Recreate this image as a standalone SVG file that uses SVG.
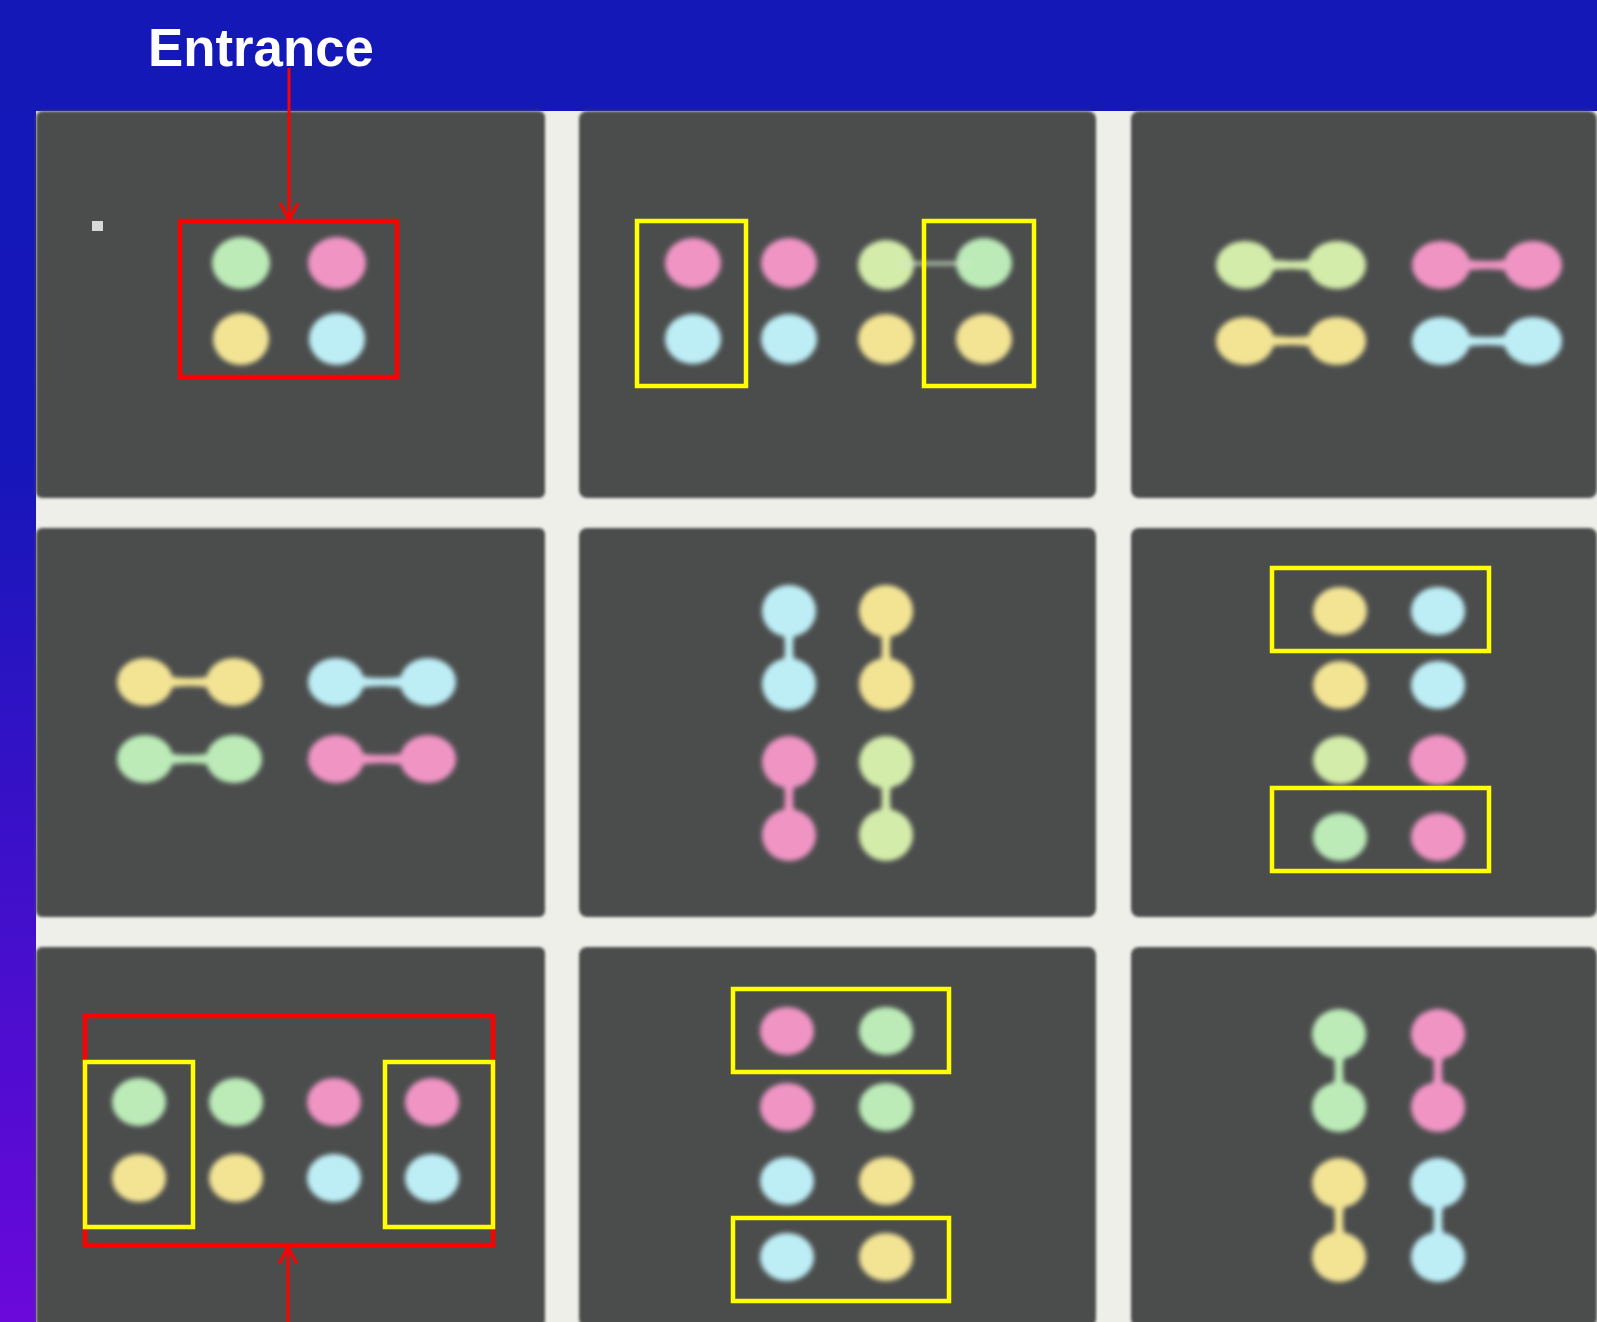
<svg xmlns="http://www.w3.org/2000/svg" width="1597" height="1322" viewBox="0 0 1597 1322">
<defs>
<linearGradient id="bg" x1="0" y1="0" x2="0" y2="1">
<stop offset="0" stop-color="#1418b6"/>
<stop offset="0.35" stop-color="#1617ba"/>
<stop offset="1" stop-color="#6a08da"/>
</linearGradient>
<filter id="soft" x="-20%" y="-20%" width="140%" height="140%"><feGaussianBlur stdDeviation="2.8"/></filter>
<filter id="edge" x="-5%" y="-5%" width="110%" height="110%"><feGaussianBlur stdDeviation="1.5"/></filter>
<marker id="vee" markerWidth="24" markerHeight="24" viewBox="0 0 24 24" refX="20" refY="12" orient="auto" markerUnits="userSpaceOnUse">
<path d="M3,3 L20,12 L3,21" fill="none" stroke="#ff0000" stroke-width="3"/>
</marker>
<style>
.tile{fill:#4b4d4d;filter:url(#edge)}
.g{fill:#bcebb8}
.gy{fill:#d4ecaa}
.p{fill:#f094c4}
.y{fill:#f3e494}
.c{fill:#bdeef6}
.dots{filter:url(#soft)}
.red{fill:none;stroke:#ff0000;stroke-width:4.5}
.yel{fill:none;stroke:#ffff00;stroke-width:4.5}
.lbl{font-family:"Liberation Sans",Arial,sans-serif;font-weight:bold;fill:#ffffff}
</style>
</defs>
<rect x="0" y="0" width="1597" height="1322" fill="url(#bg)"/>
<rect x="0" y="0" width="1597" height="111" fill="#1418b6"/>
<rect x="36" y="111" width="1561" height="1211" fill="#efefea"/>

<g id="tile-r1c1">
<rect class="tile" x="36" y="111" width="509" height="387" rx="6"/>
<rect x="92" y="221" width="11" height="10" fill="#d8d8d8"/>
<g class="dots">
<ellipse class="g" cx="241" cy="263" rx="29" ry="26"/>
<ellipse class="p" cx="337" cy="263" rx="29" ry="26"/>
<ellipse class="y" cx="241" cy="339" rx="28" ry="26"/>
<ellipse class="c" cx="337" cy="339" rx="28" ry="26"/>
</g>
<rect class="red" x="180" y="221" width="217" height="156"/>
</g>

<g id="tile-r1c2">
<rect class="tile" x="579" y="111" width="517" height="387" rx="8"/>
<g class="dots">
<ellipse class="p" cx="693" cy="263" rx="28" ry="25"/>
<ellipse class="p" cx="789" cy="263" rx="28" ry="25"/>
<ellipse class="gy" cx="886" cy="265" rx="28" ry="25"/>
<ellipse class="g" cx="984" cy="263" rx="28" ry="25"/>
<rect x="900" y="262" width="70" height="3" fill="#cfe8c6"/>
<ellipse class="c" cx="693" cy="339" rx="28" ry="25"/>
<ellipse class="c" cx="789" cy="339" rx="28" ry="25"/>
<ellipse class="y" cx="886" cy="339" rx="28" ry="25"/>
<ellipse class="y" cx="984" cy="339" rx="28" ry="25"/>
</g>
<rect class="yel" x="637" y="221" width="109" height="165"/>
<rect class="yel" x="924" y="221" width="110" height="165"/>
</g>

<g id="tile-r1c3">
<rect class="tile" x="1131" y="111" width="466" height="387" rx="8"/>
<g class="dots">
<ellipse class="gy" cx="1245" cy="265" rx="29" ry="24"/><ellipse class="gy" cx="1337" cy="265" rx="29" ry="24"/><path class="gy" d="M1250,255 Q1291,267 1332,255 L1332,275 Q1291,263 1250,275 Z"/>
<ellipse class="p" cx="1441" cy="265" rx="29" ry="24"/><ellipse class="p" cx="1533" cy="265" rx="29" ry="24"/><path class="p" d="M1446,255 Q1487,267 1528,255 L1528,275 Q1487,263 1446,275 Z"/>
<ellipse class="y" cx="1245" cy="341" rx="29" ry="24"/><ellipse class="y" cx="1337" cy="341" rx="29" ry="24"/><path class="y" d="M1250,331 Q1291,343 1332,331 L1332,351 Q1291,339 1250,351 Z"/>
<ellipse class="c" cx="1441" cy="341" rx="29" ry="24"/><ellipse class="c" cx="1533" cy="341" rx="29" ry="24"/><path class="c" d="M1446,331 Q1487,343 1528,331 L1528,351 Q1487,339 1446,351 Z"/>
</g>
</g>

<g id="tile-r2c1">
<rect class="tile" x="36" y="528" width="509" height="389" rx="6"/>
<g class="dots">
<ellipse class="y" cx="145" cy="682" rx="28" ry="24"/><ellipse class="y" cx="234" cy="682" rx="28" ry="24"/><path class="y" d="M150,672 Q190,684 229,672 L229,692 Q190,680 150,692 Z"/>
<ellipse class="c" cx="336" cy="682" rx="28" ry="24"/><ellipse class="c" cx="428" cy="682" rx="28" ry="24"/><path class="c" d="M341,672 Q382,684 423,672 L423,692 Q382,680 341,692 Z"/>
<ellipse class="g" cx="145" cy="759" rx="28" ry="24"/><ellipse class="g" cx="234" cy="759" rx="28" ry="24"/><path class="g" d="M150,749 Q190,761 229,749 L229,769 Q190,757 150,769 Z"/>
<ellipse class="p" cx="336" cy="759" rx="28" ry="24"/><ellipse class="p" cx="428" cy="759" rx="28" ry="24"/><path class="p" d="M341,749 Q382,761 423,749 L423,769 Q382,757 341,769 Z"/>
</g>
</g>

<g id="tile-r2c2">
<rect class="tile" x="579" y="528" width="517" height="389" rx="8"/>
<g class="dots">
<ellipse class="c" cx="789" cy="611" rx="27" ry="26"/><ellipse class="c" cx="789" cy="684" rx="27" ry="26"/><path class="c" d="M779,616 Q791,647 779,679 L799,679 Q787,647 799,616 Z"/>
<ellipse class="y" cx="886" cy="611" rx="27" ry="26"/><ellipse class="y" cx="886" cy="684" rx="27" ry="26"/><path class="y" d="M876,616 Q888,647 876,679 L896,679 Q884,647 896,616 Z"/>
<ellipse class="p" cx="789" cy="762" rx="27" ry="26"/><ellipse class="p" cx="789" cy="835" rx="27" ry="26"/><path class="p" d="M779,767 Q791,798 779,830 L799,830 Q787,798 799,767 Z"/>
<ellipse class="gy" cx="886" cy="762" rx="27" ry="26"/><ellipse class="gy" cx="886" cy="835" rx="27" ry="26"/><path class="gy" d="M876,767 Q888,798 876,830 L896,830 Q884,798 896,767 Z"/>
</g>
</g>

<g id="tile-r2c3">
<rect class="tile" x="1131" y="528" width="466" height="389" rx="8"/>
<g class="dots">
<ellipse class="y" cx="1340" cy="611" rx="27" ry="24"/>
<ellipse class="c" cx="1438" cy="611" rx="27" ry="24"/>
<ellipse class="y" cx="1340" cy="685" rx="27" ry="24"/>
<ellipse class="c" cx="1438" cy="685" rx="27" ry="24"/>
<ellipse class="gy" cx="1340" cy="760" rx="27" ry="24"/>
<ellipse class="p" cx="1438" cy="760" rx="28" ry="25"/>
<ellipse class="g" cx="1340" cy="837" rx="27" ry="24"/>
<ellipse class="p" cx="1438" cy="837" rx="27" ry="24"/>
</g>
<rect class="yel" x="1272" y="568" width="217" height="83"/>
<rect class="yel" x="1272" y="788" width="217" height="83"/>
</g>

<g id="tile-r3c1">
<rect class="tile" x="36" y="947" width="509" height="380" rx="6"/>
<g class="dots">
<ellipse class="g" cx="139" cy="1102" rx="27" ry="24"/>
<ellipse class="g" cx="236" cy="1102" rx="27" ry="24"/>
<ellipse class="p" cx="334" cy="1102" rx="27" ry="24"/>
<ellipse class="p" cx="432" cy="1102" rx="27" ry="24"/>
<ellipse class="y" cx="139" cy="1178" rx="27" ry="24"/>
<ellipse class="y" cx="236" cy="1178" rx="27" ry="24"/>
<ellipse class="c" cx="334" cy="1178" rx="27" ry="24"/>
<ellipse class="c" cx="432" cy="1178" rx="27" ry="24"/>
</g>
<rect class="red" x="85" y="1016" width="408" height="229"/>
<rect class="yel" x="85" y="1062" width="108" height="165"/>
<rect class="yel" x="385" y="1062" width="108" height="165"/>
</g>

<g id="tile-r3c2">
<rect class="tile" x="579" y="947" width="517" height="380" rx="8"/>
<g class="dots">
<ellipse class="p" cx="787" cy="1031" rx="27" ry="24"/>
<ellipse class="g" cx="886" cy="1031" rx="27" ry="24"/>
<ellipse class="p" cx="787" cy="1107" rx="27" ry="24"/>
<ellipse class="g" cx="886" cy="1107" rx="27" ry="24"/>
<ellipse class="c" cx="787" cy="1181" rx="27" ry="24"/>
<ellipse class="y" cx="886" cy="1181" rx="27" ry="24"/>
<ellipse class="c" cx="787" cy="1257" rx="27" ry="24"/>
<ellipse class="y" cx="886" cy="1257" rx="27" ry="24"/>
</g>
<rect class="yel" x="733" y="989" width="216" height="83"/>
<rect class="yel" x="733" y="1218" width="216" height="83"/>
</g>

<g id="tile-r3c3">
<rect class="tile" x="1131" y="947" width="466" height="380" rx="8"/>
<g class="dots">
<ellipse class="g" cx="1339" cy="1034" rx="27" ry="25"/><ellipse class="g" cx="1339" cy="1107" rx="27" ry="25"/><path class="g" d="M1329,1039 Q1341,1070 1329,1102 L1349,1102 Q1337,1070 1349,1039 Z"/>
<ellipse class="p" cx="1438" cy="1034" rx="27" ry="25"/><ellipse class="p" cx="1438" cy="1107" rx="27" ry="25"/><path class="p" d="M1428,1039 Q1440,1070 1428,1102 L1448,1102 Q1436,1070 1448,1039 Z"/>
<ellipse class="y" cx="1339" cy="1183" rx="27" ry="25"/><ellipse class="y" cx="1339" cy="1257" rx="27" ry="25"/><path class="y" d="M1329,1188 Q1341,1220 1329,1252 L1349,1252 Q1337,1220 1349,1188 Z"/>
<ellipse class="c" cx="1438" cy="1183" rx="27" ry="25"/><ellipse class="c" cx="1438" cy="1257" rx="27" ry="25"/><path class="c" d="M1428,1188 Q1440,1220 1428,1252 L1448,1252 Q1436,1220 1448,1188 Z"/>
</g>
</g>

<g id="label-entrance">
<text class="lbl" x="148" y="66" font-size="54" textLength="226" lengthAdjust="spacingAndGlyphs">Entrance</text>
</g>

<g id="connectors" fill="none" stroke="#ff0000" stroke-width="3">
<line x1="289" y1="68" x2="289" y2="220" marker-end="url(#vee)"/>
<line x1="288" y1="1322" x2="288" y2="1247" marker-end="url(#vee)"/>
</g>
</svg>
